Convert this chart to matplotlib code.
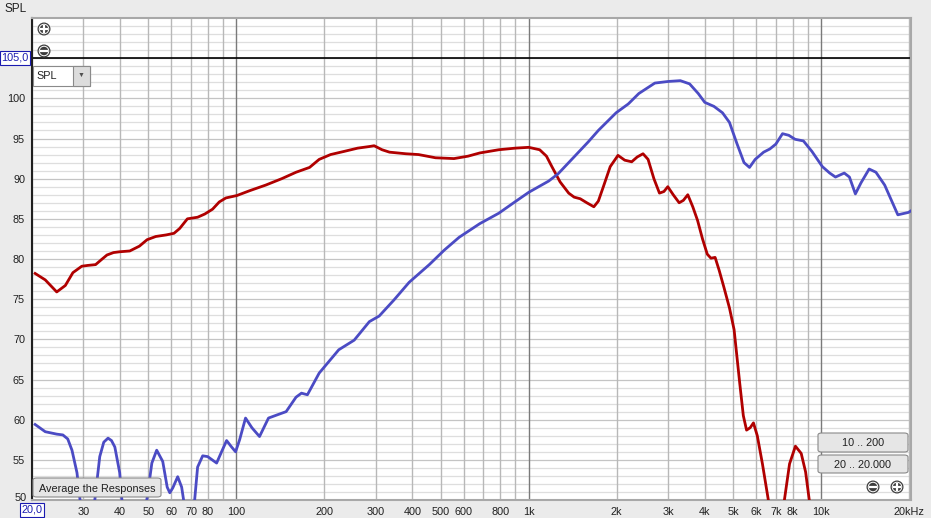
import matplotlib
matplotlib.use("Agg")
import matplotlib.pyplot as plt
from matplotlib.patches import FancyBboxPatch, Rectangle, Ellipse
from matplotlib.lines import Line2D
from matplotlib.ticker import FixedLocator, NullFormatter

plt.rcParams['font.family'] = ['Liberation Sans', 'DejaVu Sans']

# red trace (Hz, dB)
red_f = [20.5, 22.2, 24.3, 26.0, 27.6, 29.6, 31.0, 33.0, 34.5, 36.1, 38.0, 39.9, 43.2, 46.6,
         49.5, 53.0, 57.6, 61.2, 64.0, 68.0, 73.7, 78.0, 82.9, 87.4, 92.1, 100.4, 111, 126,
         143, 160, 178, 192, 210, 234, 260, 285, 296, 315, 334, 380, 420, 480, 555, 620, 680,
         790, 900, 1000, 1090, 1150, 1200, 1280, 1370, 1430, 1500, 1580, 1670, 1730, 1800,
         1900, 2020, 2130, 2250, 2350, 2460, 2560, 2680, 2800, 2900, 2990, 3120, 3270, 3380,
         3500, 3640, 3780, 3930, 4080, 4200, 4340, 4480, 4650, 4860, 5040, 5270, 5420, 5560,
         5720, 5870, 6050, 6300, 6600, 7000, 7490, 7800, 8170, 8550, 8850, 9110, 9600, 10500]
red_db = [78.2, 77.4, 75.9, 76.7, 78.3, 79.1, 79.2, 79.3, 79.9, 80.5, 80.8, 80.9, 81.0, 81.6,
          82.4, 82.8, 83.0, 83.2, 83.8, 85.0, 85.2, 85.6, 86.2, 87.1, 87.6, 87.9, 88.5, 89.2,
          90.0, 90.8, 91.4, 92.4, 93.0, 93.4, 93.8, 94.0, 94.1, 93.6, 93.3, 93.1, 93.0, 92.6,
          92.5, 92.8, 93.2, 93.6, 93.8, 93.9, 93.6, 92.8, 91.5, 89.6, 88.2, 87.7, 87.5, 87.0,
          86.5, 87.2, 89.0, 91.5, 92.9, 92.3, 92.1, 92.7, 93.1, 92.4, 90.0, 88.2, 88.4, 89.0,
          88.0, 87.0, 87.3, 88.0, 86.5, 84.8, 82.5, 80.6, 80.1, 80.2, 78.6, 76.5, 73.9, 71.2,
          64.5, 60.5, 58.7, 59.0, 59.6, 58.0, 54.5, 50.0, 45.5, 50.0, 54.5, 56.7, 55.8, 53.5,
          50.0, 45.0, 38.0]

# blue trace (Hz, dB)
blue_f = [20.5, 22.2, 24.3, 25.5, 26.5, 27.4, 28.5, 29.2, 30.8, 32.8, 34.1, 35.2, 36.4, 37.4,
          38.4, 39.9, 40.6, 44.2, 49.4, 51.4, 53.4, 56.0, 58.0, 59.2, 60.6, 63.0, 65.0, 66.0,
          69.2, 72.0, 73.7, 76.7, 79.8, 85.6, 89.0, 92.6, 96.3, 99.4, 102.6, 107.5, 113, 120,
          128.8, 138, 148, 160, 167, 175, 192, 224, 253, 285, 308, 346, 390, 457, 514, 578,
          680, 790, 888, 1000, 1170, 1260, 1420, 1600, 1730, 1990, 2190, 2380, 2700, 3000,
          3300, 3550, 3800, 4000, 4300, 4600, 4860, 5150, 5450, 5690, 5950, 6360, 6680, 7000,
          7380, 7750, 8150, 8700, 9300, 10100, 10700, 11200, 12000, 12500, 13100, 13700, 14600,
          15400, 16500, 18300, 19900, 20300]
blue_db = [59.4, 58.5, 58.2, 58.1, 57.6, 56.2, 53.4, 50.0, 45.5, 50.0, 55.4, 57.2, 57.7, 57.4,
           56.6, 53.4, 50.0, 46.0, 50.0, 54.6, 56.2, 54.8, 51.6, 50.9, 51.5, 52.9, 51.6, 50.0,
           46.0, 50.0, 54.1, 55.5, 55.4, 54.6, 56.0, 57.4, 56.6, 56.0, 57.5, 60.2, 59.0, 57.9,
           60.2, 60.6, 61.0, 62.8, 63.3, 63.1, 65.8, 68.7, 69.9, 72.2, 72.9, 74.9, 77.1, 79.3,
           81.1, 82.7, 84.4, 85.7, 87.0, 88.3, 89.7, 90.6, 92.6, 94.6, 96.0, 98.2, 99.3, 100.6,
           101.9, 102.1, 102.2, 101.8, 100.6, 99.5, 99.0, 98.2, 97.0, 94.4, 92.0, 91.4, 92.4,
           93.3, 93.7, 94.3, 95.6, 95.4, 94.9, 94.7, 93.4, 91.5, 90.7, 90.2, 90.7, 90.2, 88.1,
           89.5, 91.2, 90.8, 89.2, 85.5, 85.8, 86.0]

x_ticks = [30, 40, 50, 60, 70, 80, 100, 200, 300, 400, 500, 600, 800, 1000,
           2000, 3000, 4000, 5000, 6000, 7000, 8000, 10000, 20000]
x_labels = ['30', '40', '50', '60', '70', '80', '100', '200', '300', '400', '500', '600',
            '800', '1k', '2k', '3k', '4k', '5k', '6k', '7k', '8k', '10k', '20kHz']
y_ticks = [55, 60, 65, 70, 75, 80, 85, 90, 95, 100]

W, H = 931, 518
fig = plt.figure(figsize=(W / 100, H / 100), dpi=100)
fig.patch.set_facecolor('#ebebeb')


def fx(x):
    return x / W


def fy(y):
    return 1 - y / H


left, right, top, bottom = 32, 911, 18, 500
ax = fig.add_axes([fx(left), fy(bottom), fx(right - left), fy(top) - fy(bottom)])
ax.set_facecolor('white')
ax.set_xscale('log')
ax.set_xlim(20, 20300)
ax.set_ylim(50, 110)

# grid
for v in range(51, 110):
    c = '#c4c4c4' if v % 5 == 0 else '#dedede'
    ax.axhline(v, color=c, lw=0.9, zorder=0)
vlines = [f * d for d in (10, 100, 1000) for f in range(2, 11)] + [20000]
for v in vlines:
    dec = v in (100, 1000, 10000)
    ax.axvline(v, color='#7a7a7a' if dec else '#b8b8b8', lw=1.0, zorder=0)
ax.axhline(105, color='black', lw=1.2, zorder=1)

ax.plot(red_f, red_db, color='#b00000', lw=2.0, zorder=3, solid_joinstyle='round')
ax.plot(blue_f, blue_db, color='#4b4bc4', lw=2.0, zorder=3, solid_joinstyle='round')

ax.xaxis.set_major_locator(FixedLocator(x_ticks))
ax.xaxis.set_minor_formatter(NullFormatter())
ax.set_xticks([], minor=True)
ax.set_xticklabels(x_labels)
ax.set_yticks(y_ticks)
ax.tick_params(length=0, labelsize=7.8, colors='#202020', pad=5)
for s in ('top', 'right', 'bottom'):
    ax.spines[s].set_color('#a8a8a8')
    ax.spines[s].set_linewidth(1.5)
ax.spines['left'].set_color('#202020')
ax.spines['left'].set_linewidth(1.5)

# axis labels / value boxes
fig.text(fx(16), fy(9), 'SPL', fontsize=8.5, ha='center', va='center', color='#202020')
fig.text(fx(15), fy(58), '105,0', fontsize=7.8, ha='center', va='center', color='#1a1ab0',
         bbox=dict(boxstyle='square,pad=0.15', fc='white', ec='#1a1ab0', lw=0.8))
fig.text(fx(32), fy(510), '20,0', fontsize=7.8, ha='center', va='center', color='#1a1ab0',
         bbox=dict(boxstyle='square,pad=0.15', fc='white', ec='#1a1ab0', lw=0.8))
fig.text(fx(27), fy(498), '50', fontsize=7.8, ha='right', va='center', color='#202020')


def button(x0, y0, x1, y1, label):
    b = FancyBboxPatch((fx(x0), fy(y1)), fx(x1 - x0), fy(y0) - fy(y1),
                       boxstyle='round,pad=0,rounding_size=0.004', transform=fig.transFigure,
                       fc='#e6e6e6', ec='#8a8a8a', lw=0.8, zorder=5)
    fig.add_artist(b)
    fig.text(fx((x0 + x1) / 2), fy((y0 + y1) / 2 + 1), label, fontsize=7.8, ha='center',
             va='center', color='#202020', zorder=6)


button(33, 478, 161, 497, 'Average the Responses')
button(818, 433, 908, 452, '10 .. 200')
button(818, 455, 908, 473, '20 .. 20.000')

# SPL dropdown
fig.add_artist(Rectangle((fx(33), fy(86)), fx(57), fy(66) - fy(86), transform=fig.transFigure,
                         fc='white', ec='#8a8a8a', lw=0.8, zorder=5))
fig.add_artist(Rectangle((fx(73), fy(86)), fx(17), fy(66) - fy(86), transform=fig.transFigure,
                         fc='#dcdcdc', ec='#8a8a8a', lw=0.8, zorder=5))
fig.text(fx(47), fy(76), 'SPL', fontsize=7.8, ha='center', va='center', color='#202020', zorder=6)
fig.text(fx(81.5), fy(75), '\u25BC', fontsize=5, ha='center', va='center', color='#505050', zorder=6)


def zoom_icon(x, y, plus):
    for d, c in ((13, '#3c3c3c'), (10.5, 'white'), (8.5, '#3c3c3c')):
        fig.add_artist(Ellipse((fx(x), fy(y)), d / W, d / H, transform=fig.transFigure,
                               fc=c, ec='none', zorder=6))
    fig.add_artist(Line2D([fx(x - 2.8), fx(x + 2.8)], [fy(y), fy(y)], transform=fig.transFigure,
                          color='white', lw=1.6, zorder=7))
    if plus:
        fig.add_artist(Line2D([fx(x), fx(x)], [fy(y - 2.8), fy(y + 2.8)],
                              transform=fig.transFigure, color='white', lw=1.6, zorder=7))


for (x, y, p) in [(44, 29, True), (44, 51, False), (873, 487, False), (897, 487, True)]:
    zoom_icon(x, y, p)

fig.savefig('out.png', dpi=100, facecolor=fig.get_facecolor())
